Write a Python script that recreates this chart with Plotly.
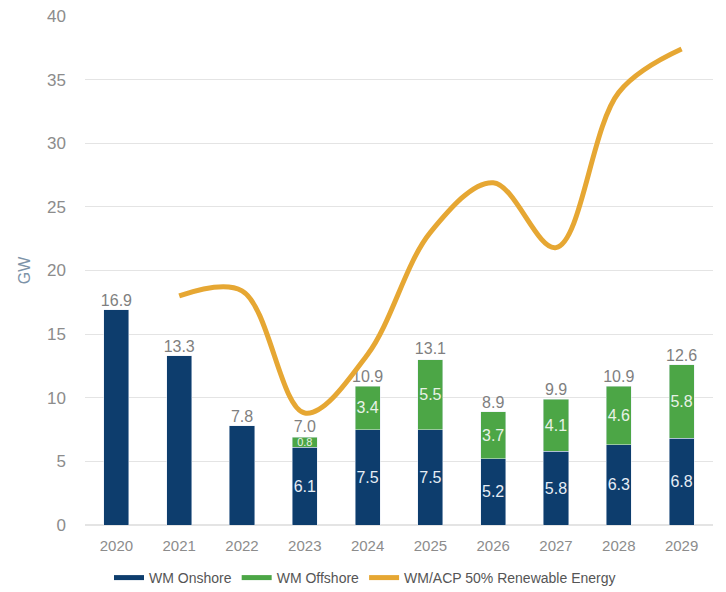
import plotly.graph_objects as go

years = ["2020", "2021", "2022", "2023", "2024", "2025", "2026", "2027", "2028", "2029"]
onshore = [16.9, 13.3, 7.8, 6.1, 7.5, 7.5, 5.2, 5.8, 6.3, 6.8]
offshore = [None, None, None, 0.8, 3.4, 5.5, 3.7, 4.1, 4.6, 5.8]
totals = [16.9, 13.3, 7.8, 7.0, 10.9, 13.1, 8.9, 9.9, 10.9, 12.6]
onshore_labels = ["", "", "", "6.1", "7.5", "7.5", "5.2", "5.8", "6.3", "6.8"]
offshore_labels = ["", "", "", "0.8", "3.4", "5.5", "3.7", "4.1", "4.6", "5.8"]
acp = [None, 18.0, 18.4, 8.8, 13.4, 23.0, 26.9, 21.8, 34.0, 37.4]

NAVY = "#0d3d6d"
GREEN = "#4ca646"
ORANGE = "#e6a733"
FONT = "Liberation Sans, Arial, sans-serif"

fig = go.Figure()
fig.add_trace(go.Bar(
    x=years, y=onshore, name="WM Onshore", marker_color=NAVY,
    text=onshore_labels, textposition="inside", insidetextanchor="middle",
    textangle=0, constraintext="none",
    textfont=dict(color="#e6edf5", size=16, family=FONT),
    showlegend=False, hoverinfo="y",
))
fig.add_trace(go.Bar(
    x=years, y=offshore, name="WM Offshore", marker_color=GREEN,
    text=offshore_labels, textposition="inside", insidetextanchor="middle",
    textangle=0, constraintext="none",
    textfont=dict(color="#e8f2e6", size=[16, 16, 16, 11, 16, 16, 16, 16, 16, 16], family=FONT),
    showlegend=False, hoverinfo="y",
))
fig.add_trace(go.Scatter(
    x=years, y=totals, mode="text", text=[f"{v:.1f}" for v in totals],
    textposition="top center", textfont=dict(color="#7f7f7f", size=16, family=FONT),
    showlegend=False, hoverinfo="skip",
))
fig.add_trace(go.Scatter(
    x=years, y=acp, mode="lines", name="WM/ACP 50% Renewable Energy",
    line=dict(color=ORANGE, width=5, shape="spline", smoothing=1.0),
    showlegend=False, connectgaps=False,
))
# legend entries
for nm, col in [("WM Onshore", NAVY), ("WM Offshore", GREEN), ("WM/ACP 50% Renewable Energy", ORANGE)]:
    fig.add_trace(go.Scatter(
        x=[None], y=[None], mode="lines", name=nm,
        line=dict(color=col, width=5), showlegend=True,
    ))

fig.update_layout(
    width=726, height=592,
    barmode="stack", bargap=0.6,
    plot_bgcolor="white", paper_bgcolor="white",
    margin=dict(l=85, r=13, t=16, b=67, autoexpand=False),
    font=dict(family=FONT, color="#7f7f7f"),
    legend=dict(orientation="h", x=365 / 726, xref="container", xanchor="center",
                y=(592 - 578) / 592, yref="container", yanchor="middle",
                font=dict(size=14, color="#555555"), itemwidth=30,
                traceorder="normal"),
)
fig.update_xaxes(type="category", showgrid=False, showline=False, ticks="",
                 ticklabelstandoff=10,
                 tickfont=dict(size=15, color="#8c8c8c"))
fig.update_yaxes(range=[0, 40], dtick=5, showgrid=True, gridcolor="#e4e4e4",
                 zeroline=True, zerolinecolor="#e4e4e4", showline=False, ticks="",
                 ticklabelstandoff=18,
                 tickfont=dict(size=17, color="#8c8c8c"),
                 title=dict(text="GW", font=dict(size=16, color="#7d93a8"), standoff=12))

fig.write_html("out.html")
